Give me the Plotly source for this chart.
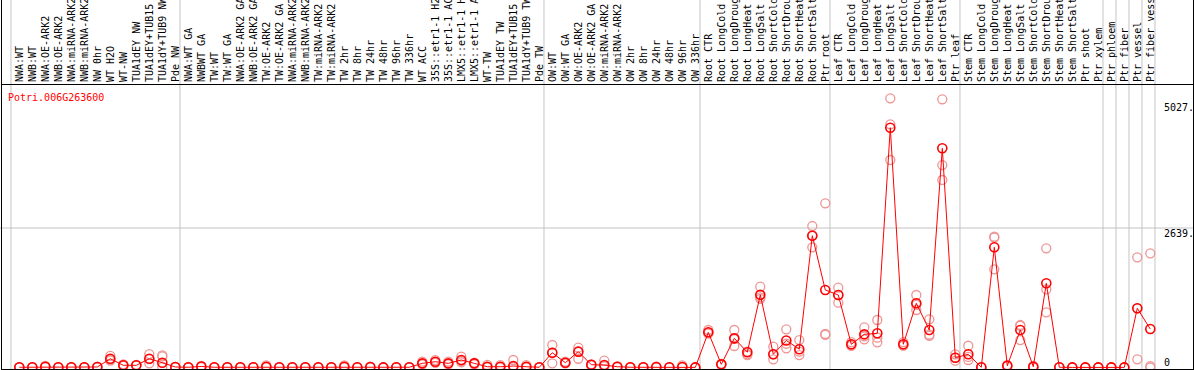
import plotly.graph_objects as go

gene_id = "Potri.006G263600"

categories = [
    "NWA:WT", "NWB:WT", "NWA:OE-ARK2", "NWB:OE-ARK2", "NWA:miRNA-ARK2", "NWB:miRNA-ARK2",
    "NW 0hr", "WT H2O", "WT-NW", "TUA1dEY NW", "TUA1dEY+TUB15 NW", "TUA1dY+TUB9 NW", "Pde NW",
    "NWA:WT GA", "NWBWT GA", "TW:WT", "TW:WT GA", "NWA:OE-ARK2 GA", "NWB:OE-ARK2 GA",
    "TW:OE-ARK2", "TW:OE-ARK2 GA", "NWA:miRNA-ARK2", "NWB:miRNA-ARK2", "TW:miRNA-ARK2",
    "TW:miRNA-ARK2", "TW 2hr", "TW 8hr", "TW 24hr", "TW 48hr", "TW 96hr", "TW 336hr",
    "WT ACC", "35S::etr1-1 H2O", "35S::etr1-1 ACC", "LMX5::etr1-1 H2O", "LMX5::etr1-1 ACC",
    "WT-TW", "TUA1dEY TW", "TUA1dEY+TUB15 TW", "TUA1dY+TUB9 TW", "Pde TW",
    "OW:WT", "OW:WT GA", "OW:OE-ARK2", "OW:OE-ARK2 GA", "OW:miRNA-ARK2", "OW:miRNA-ARK2",
    "OW 2hr", "OW 8hr", "OW 24hr", "OW 48hr", "OW 96hr", "OW 336hr",
    "Root CTR", "Root LongCold", "Root LongDrought", "Root LongHeat", "Root LongSalt",
    "Root ShortCold", "Root ShortDrought", "Root ShortHeat", "Root ShortSalt", "Ptr root",
    "Leaf CTR", "Leaf LongCold", "Leaf LongDrought", "Leaf LongHeat", "Leaf LongSalt",
    "Leaf ShortCold", "Leaf ShortDrought", "Leaf ShortHeat", "Leaf ShortSalt", "Ptr leaf",
    "Stem CTR", "Stem LongCold", "Stem LongDrought", "Stem LongHeat", "Stem LongSalt",
    "Stem ShortCold", "Stem ShortDrought", "Stem ShortHeat", "Stem ShortSalt", "Ptr shoot",
    "Ptr xylem", "Ptr phloem", "Ptr fiber", "Ptr vessel", "Ptr fiber vessel",
]

mean_values = [
    5, 5, 15, 5, 5, 5, 10, 166, 42, 42, 166, 91, 10,
    5, 20, 5, 5, 5, 5, 15, 5, 5, 5, 5, 5, 15, 5, 10, 2, 5, 5,
    79, 110, 79, 142, 79, 15, 15, 28, 15, 5,
    280, 91, 300, 53, 47, 15, 5, 5, 10, 5, 10, 2,
    666, 60, 552, 290, 1375, 252, 512, 347, 2494, 1466,
    1372, 439, 628, 647, 4537, 439, 1215, 710, 4147, 186,
    250, 5, 2274, 34, 710, 15, 1593, 5, 2, 2,
    2, 2, 2, 1120, 728,
]

rep1 = [
    8, 8, 30, 8, 8, 8, 15, 220, 60, 50, 255, 230, 12,
    8, 30, 8, 8, 8, 8, 40, 8, 8, 8, 8, 8, 40, 8, 15, 4, 8, 8,
    110, 140, 110, 205, 90, 50, 45, 142, 45, 8,
    426, 110, 375, 60, 129, 20, 8, 8, 15, 8, 40, 4,
    710, 70, 710, 300, 1529, 394, 723, 520, 2677, 3107,
    1510, 480, 760, 899, 5093, 480, 1372, 912, 5074, 250,
    412, 8, 2475, 50, 804, 30, 2255, 8, 4, 4,
    4, 4, 4, 2085, 2161,
]

rep2 = [
    4, 4, 10, 4, 4, 4, 8, 150, 40, 40, 160, 210, 8,
    4, 15, 4, 4, 4, 4, 10, 4, 4, 4, 4, 4, 10, 4, 8, 2, 4, 4,
    70, 100, 70, 120, 70, 10, 10, 20, 10, 4,
    280, 85, 300, 50, 30, 10, 4, 4, 8, 4, 8, 2,
    660, 55, 540, 250, 1328, 250, 450, 300, 2274, 634,
    1372, 430, 590, 565, 4601, 420, 1185, 620, 3831, 186,
    200, 4, 2460, 30, 790, 10, 1480, 4, 2, 2,
    2, 2, 2, 1120, 28,
]

rep3 = [
    2, 2, 8, 2, 2, 2, 6, 130, 30, 35, 79, 10, 6,
    2, 10, 2, 2, 2, 2, 5, 2, 2, 2, 2, 2, 5, 2, 5, 1, 2, 2,
    60, 90, 60, 100, 60, 5, 5, 10, 5, 2,
    79, 80, 166, 40, 20, 8, 2, 2, 5, 2, 5, 1,
    640, 50, 407, 236, 1300, 155, 363, 236, 2500, 620,
    1226, 410, 534, 477, 3926, 415, 1088, 598, 3548, 130,
    142, 2, 1858, 20, 520, 5, 1044, 2, 1, 1,
    1, 1, 1, 155, 0,
]

group_sizes = [13, 28, 12, 10, 10, 11, 1, 1, 1, 1]

y_tick_values = [0, 2639, 5027]
y_tick_labels = ["0", "2639.", "5027."]

# ---------------------------------------------------------------- layout
W, H = 1194, 370
ML, MR, MT, MB = 2, 1, 85, 1
plot_w = W - ML - MR
x_range = [-1.331, -1.331 + plot_w / 13.0]
y_range = [-28, 5345]

FONT = "DejaVu Sans Mono"
RED = "#ff0000"
PALE = "#ee9595"
GRID = "#c4c4c4"

xs = list(range(len(categories)))

fig = go.Figure()

for reps in (rep1, rep2, rep3):
    fig.add_trace(go.Scatter(
        x=xs, y=reps, mode="markers",
        marker=dict(symbol="circle-open", size=9, color=PALE, line=dict(width=1.3, color=PALE)),
        hoverinfo="skip", showlegend=False, cliponaxis=False,
    ))

fig.add_trace(go.Scatter(
    x=xs, y=mean_values, mode="lines+markers",
    line=dict(color=RED, width=1),
    marker=dict(symbol="circle-open", size=9, color=RED, line=dict(width=1.6, color=RED)),
    showlegend=False, cliponaxis=False,
    text=categories, hovertemplate="%{text}: %{y}<extra></extra>",
))

shapes = []
# vertical group separators (spanning header and plot)
pos = -1
bounds = [pos]
for g in group_sizes:
    pos += g
    bounds.append(pos)
for b in bounds:
    shapes.append(dict(type="line", xref="x", yref="paper", x0=b + 0.36, x1=b + 0.36,
                       y0=0, y1=1.5, line=dict(color=GRID, width=1), layer="below"))
# horizontal grid line at middle tick
shapes.append(dict(type="line", xref="paper", yref="y", x0=-0.01, x1=1.01,
                   y0=y_tick_values[1], y1=y_tick_values[1],
                   line=dict(color=GRID, width=1), layer="below"))
# frame lines through the header
for px in (1.5, W - MR + 0.5):
    xp = (px - ML) / plot_w
    shapes.append(dict(type="line", xref="paper", yref="paper", x0=xp, x1=xp,
                       y0=0, y1=1.5, line=dict(color="black", width=1)))

annotations = []
lab_x = (1163 - ML) / plot_w
for v, t in zip(y_tick_values, y_tick_labels):
    annotations.append(dict(
        x=lab_x, xref="paper", y=v, yref="y", text=t, showarrow=False,
        xanchor="left", yanchor="bottom" if v == 0 else "top",
        font=dict(family=FONT, size=10, color="black"), borderpad=0,
        yshift=-1 if v == 0 else 1,
    ))
annotations.append(dict(
    x=(7 - ML) / plot_w, xref="paper", y=1 - 6 / (H - MT - MB), yref="paper",
    text=gene_id, showarrow=False, xanchor="left", yanchor="top",
    font=dict(family=FONT, size=10, color=RED), borderpad=0,
))

fig.update_layout(
    width=W, height=H,
    margin=dict(l=ML, r=MR, t=MT, b=MB, pad=0),
    paper_bgcolor="white", plot_bgcolor="white",
    shapes=shapes, annotations=annotations,
    xaxis=dict(
        range=x_range, side="top", tickmode="array", tickvals=xs, ticktext=categories,
        tickangle=-90, tickfont=dict(family=FONT, size=10, color="black"),
        ticks="", showgrid=False, zeroline=False, automargin=False,
        showline=True, mirror=True, linecolor="black", linewidth=1,
    ),
    yaxis=dict(
        range=y_range, showticklabels=False, ticks="", showgrid=False, zeroline=False,
        showline=True, mirror=True, linecolor="black", linewidth=1, automargin=False,
    ),
)

fig.write_html(
    "out.html",
    config={"displayModeBar": False},
    post_script="document.body.style.margin='0';document.body.style.padding='0';"
                "document.body.style.overflow='hidden';",
)
